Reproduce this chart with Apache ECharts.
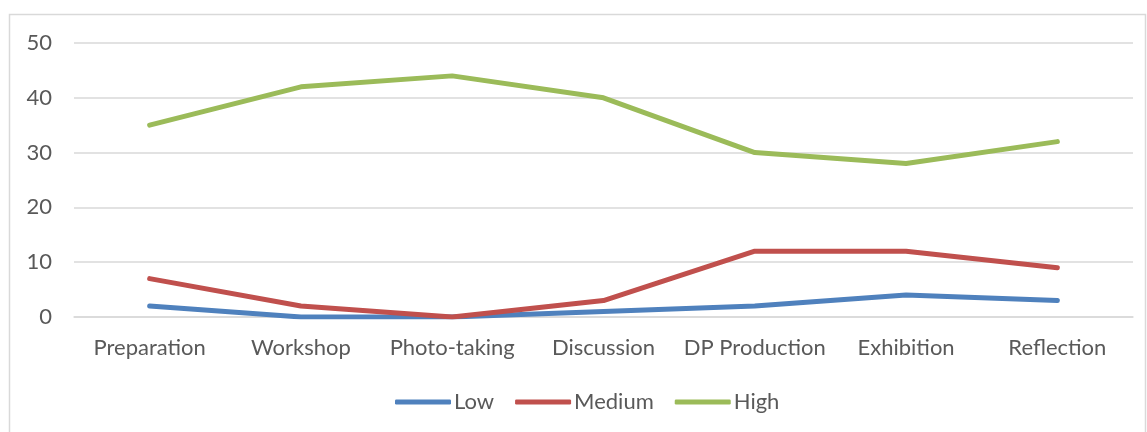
<!DOCTYPE html>
<html>
<head>
<meta charset="utf-8">
<script src="https://cdn.jsdelivr.net/npm/echarts@6/dist/echarts.min.js"></script>
<style>
  html, body { margin: 0; padding: 0; background: #fff; }
  #chart { width: 1147px; height: 432px; }
</style>
</head>
<body>
<div id="chart"></div>
<script>
// Stage names along the x axis
const stages = ['Preparation', 'Workshop', 'Photo-taking', 'Discussion', 'DP Production', 'Exhibition', 'Reflection'];
// Counts per engagement level
const lowValues = [2, 0, 0, 1, 2, 4, 3];
const mediumValues = [7, 2, 0, 3, 12, 12, 9];
const highValues = [35, 42, 44, 40, 30, 28, 32];
// Value axis range
const yMin = 0;
const yMax = 50;
const yStep = 10;

const textColor = '#595959';
const fontFamily = 'Lato, "Open Sans", sans-serif';
const fontSize = 22;

function lineSeries(name, values, color) {
  return {
    name: name,
    type: 'line',
    data: values,
    symbol: 'none',
    lineStyle: { width: 5, color: color, cap: 'round', join: 'round' },
    itemStyle: { color: color }
  };
}

const chart = echarts.init(document.getElementById('chart'), null, { renderer: 'canvas' });
chart.setOption({
  backgroundColor: '#ffffff',
  animation: false,
  graphic: [{
    type: 'rect',
    shape: { x: 9.5, y: 14.5, width: 1136, height: 430 },
    style: { fill: 'none', stroke: '#d9d9d9', lineWidth: 1.5 },
    silent: true
  }],
  grid: { left: 74, right: 14, top: 43, bottom: 115, containLabel: false },
  xAxis: {
    type: 'category',
    data: stages,
    boundaryGap: true,
    axisLine: { show: true, lineStyle: { color: '#d9d9d9', width: 1.5 } },
    axisTick: { show: false },
    axisLabel: { color: textColor, fontSize: fontSize, fontFamily: fontFamily, margin: 20, interval: 0 },
    splitLine: { show: false }
  },
  yAxis: {
    type: 'value',
    min: yMin,
    max: yMax,
    interval: yStep,
    axisLine: { show: false },
    axisTick: { show: false },
    axisLabel: { color: textColor, fontSize: fontSize, fontFamily: fontFamily, margin: 22 },
    splitLine: { lineStyle: { color: '#d9d9d9', width: 1.5 } }
  },
  legend: {
    left: 390,
    top: 386,
    itemWidth: 56,
    itemHeight: 5,
    itemGap: 21,
    icon: 'roundRect',
    textStyle: { color: textColor, fontSize: fontSize, fontFamily: fontFamily, padding: [0, 0, 0, -2] },
    data: ['Low', 'Medium', 'High']
  },
  series: [
    lineSeries('Low', lowValues, '#4f81bd'),
    lineSeries('Medium', mediumValues, '#c0504d'),
    lineSeries('High', highValues, '#9bbb59')
  ]
});
</script>
</body>
</html>
